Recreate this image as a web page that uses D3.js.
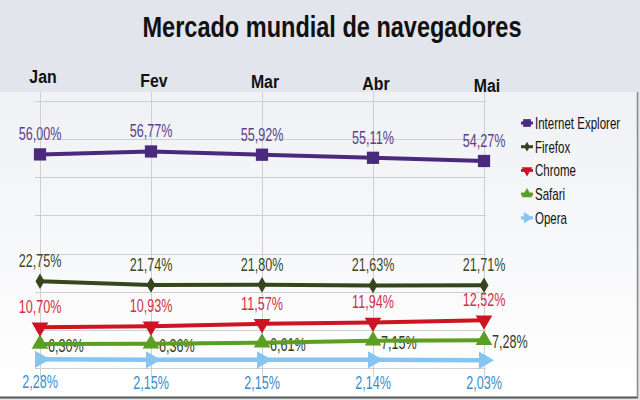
<!DOCTYPE html>
<html><head><meta charset="utf-8">
<script src="https://cdn.jsdelivr.net/npm/d3@7/dist/d3.min.js"></script>
<style>html,body{margin:0;padding:0;background:#e2e5eb;}svg{display:block;}</style>
</head><body>
<svg id="c" width="640" height="400"></svg>
<script>
const title = "Mercado mundial de navegadores";
const months = ["Jan", "Fev", "Mar", "Abr", "Mai"];
const seriesNames = ["Internet Explorer", "Firefox", "Chrome", "Safari", "Opera"];
const ieValues = [56.00, 56.77, 55.92, 55.11, 54.27];
const firefoxValues = [22.75, 21.74, 21.80, 21.63, 21.71];
const chromeValues = [10.70, 10.93, 11.57, 11.94, 12.52];
const safariValues = [6.30, 6.36, 6.61, 7.15, 7.28];
const operaValues = [2.28, 2.15, 2.15, 2.14, 2.03];
const yTicks = [0, 10, 20, 30, 40, 50, 60, 70];

const styles = [
  {line:"#4a2a7c", label:"#5b3f8c", sym:d3.symbolSquare, size:150, rot:0, lw:4, pos:"above"},
  {line:"#36461c", label:"#3b4a26", sym:d3.symbolDiamond, size:70, rot:0, lw:4, pos:"above"},
  {line:"#cc1422", label:"#d23048", sym:d3.symbolTriangle, size:120, rot:180, lw:4, pos:"above"},
  {line:"#5a9e22", label:"#363c1e", sym:d3.symbolTriangle, size:120, rot:0, lw:4, pos:"right"},
  {line:"#86c4f2", label:"#3a8ed0", sym:d3.symbolTriangle, size:130, rot:90, lw:4.5, pos:"below"}
];
const allValues = [ieValues, firefoxValues, chromeValues, safariValues, operaValues];
const series = seriesNames.map((n,i)=>({name:n, values:allValues[i], st:styles[i]}));

const svg = d3.select("#c");
const font = "'Liberation Sans',Arial,sans-serif";

// compress text horizontally to mimic a narrow typeface
function narrow(sel, factor){
  sel.each(function(){
    const w = this.getComputedTextLength();
    d3.select(this).attr("textLength", w*factor).attr("lengthAdjust","spacingAndGlyphs");
  });
}

// plot background
const defs = svg.append("defs");
const g1 = defs.append("linearGradient").attr("id","bg").attr("x1",0).attr("y1",0).attr("x2",0).attr("y2",1);
g1.append("stop").attr("offset","0%").attr("stop-color","#f0f1f4");
g1.append("stop").attr("offset","100%").attr("stop-color","#ffffff");
svg.append("rect").attr("x",0).attr("y",92).attr("width",637).attr("height",305).attr("fill","url(#bg)");
svg.append("line").attr("x1",0).attr("x2",638).attr("y1",397.5).attr("y2",397.5).attr("stroke","#555").attr("stroke-width",2);
svg.append("line").attr("x1",637.5).attr("x2",637.5).attr("y1",92).attr("y2",398).attr("stroke","#888").attr("stroke-width",1.5);

// title
svg.append("text").attr("x",332).attr("y",37).attr("text-anchor","middle")
  .attr("font-family",font).attr("font-weight","bold").attr("font-size",30)
  .attr("textLength",379).attr("lengthAdjust","spacingAndGlyphs")
  .attr("fill","#111").text(title);

// scales
const x = d3.scalePoint().domain(months).range([40, 484]);
const y = d3.scaleLinear().domain([0, 70]).range([368, 101]);

// header month labels (skewed baseline as in reference)
const headBase = [83, 87, 88, 90, 92];
svg.append("g").selectAll("text").data(months).join("text")
  .attr("x",d=>x(d)+3).attr("y",(d,i)=>headBase[i]).attr("text-anchor","middle")
  .attr("font-family",font).attr("font-weight","bold").attr("font-size",18)
  .attr("fill","#111").text(d=>d).call(narrow, 0.88);

// grid
const grid = svg.append("g");
grid.selectAll("line.h").data(yTicks).join("line").attr("class","h")
  .attr("x1",35).attr("x2",486).attr("y1",d=>Math.round(y(d))+0.5).attr("y2",d=>Math.round(y(d))+0.5)
  .attr("stroke","#cfcfd2").attr("stroke-width",1);
grid.selectAll("line.v").data(months).join("line").attr("class","v")
  .attr("x1",d=>x(d)+0.5).attr("x2",d=>x(d)+0.5).attr("y1",92).attr("y2",377)
  .attr("stroke","#cfcfd2").attr("stroke-width",1);

const fmt = v => v.toFixed(2).replace(".", ",") + "%";
const line = d3.line().x((d,i)=>x(months[i])).y(d=>y(d));

function drawLabels(s){
  const g = svg.append("g");
  g.selectAll("text").data(s.values).join("text")
    .attr("x",(d,i)=> s.st.pos==="right" ? x(months[i])+8 : x(months[i]))
    .attr("y",d=> s.st.pos==="above" ? y(d)-14 : s.st.pos==="below" ? y(d)+29 : y(d)+8)
    .attr("text-anchor", s.st.pos==="right" ? "start" : "middle")
    .attr("font-family",font).attr("font-size",17.5)
    .attr("fill",s.st.label).text(fmt)
    .call(narrow, 0.72);
}
series.filter(s=>s.st.pos==="right").forEach(drawLabels);

// draw series (bottom ones first)
series.slice().reverse().forEach(s=>{
  const g = svg.append("g");
  g.append("path").datum(s.values).attr("d",line).attr("fill","none")
    .attr("stroke",s.st.line).attr("stroke-width",s.st.lw).attr("stroke-linejoin","round");
  g.selectAll("path.m").data(s.values).join("path").attr("class","m")
    .attr("d",d3.symbol().type(s.st.sym).size(s.st.size))
    .attr("transform",(d,i)=>`translate(${x(months[i])},${y(d)}) rotate(${s.st.rot})`)
    .attr("fill",s.st.line);
});
series.filter(s=>s.st.pos!=="right").forEach(drawLabels);

// legend
const leg = svg.append("g").attr("transform","translate(527,123)");
series.forEach((s,i)=>{
  const r = leg.append("g").attr("transform",`translate(0,${i*23.7})`);
  r.append("line").attr("x1",-6).attr("x2",6).attr("y1",0).attr("y2",0).attr("stroke",s.st.line).attr("stroke-width",3);
  r.append("path").attr("d",d3.symbol().type(s.st.sym).size(s.st.size*0.4)).attr("transform",`rotate(${s.st.rot})`).attr("fill",s.st.line);
  r.append("text").attr("transform","translate(8,6) scale(0.72,1)").attr("font-family",font).attr("font-size",16)
    .attr("fill","#111").text(s.name);
});
</script>
</body></html>
